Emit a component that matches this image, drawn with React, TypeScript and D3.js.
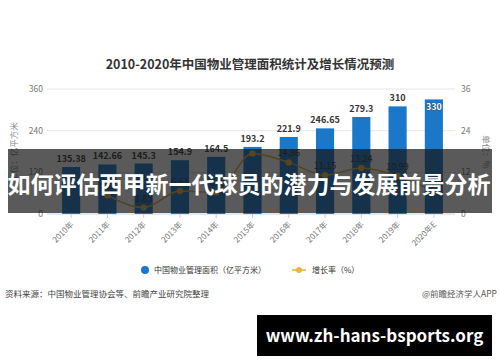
import React from 'react';
import * as d3 from 'd3';

const years = ['2010年', '2011年', '2012年', '2013年', '2014年', '2015年', '2016年', '2017年', '2018年', '2019年', '2020年E'];
const areaValues = [135.38, 142.66, 145.3, 154.9, 164.5, 193.2, 221.9, 246.65, 279.3, 310, 330];
// 2010 has no growth value in the chart
const growthYears = years.slice(1);
const growthValues = [5.38, 1.85, 6.61, 6.2, 17.45, 14.86, 11.15, 13.24, 10.99, 6.45];
const hiddenGrowthLabels = ['2015年'];
const leftTicks = [0, 120, 240, 360];
const rightTicks = [0, 12, 24, 36];

const W = 500;
const H = 362;
const margin = { top: 89, bottom: 214, left: 53, right: 452 };
const font = '"Noto Sans CJK SC", "Noto Sans", sans-serif';

export default function App() {
  const x = d3.scaleBand<string>().domain(years).range([margin.left, margin.right]).paddingInner(0.5).paddingOuter(0.25);
  const yL = d3.scaleLinear().domain([0, 360]).range([margin.bottom, margin.top]);
  const yR = d3.scaleLinear().domain([0, 36]).range([margin.bottom, margin.top]);
  const cx = (d: string) => (x(d) ?? 0) + x.bandwidth() / 2;

  const line = d3
    .line<number>()
    .x((_, i) => cx(growthYears[i]))
    .y(d => yR(d))
    .curve(d3.curveMonotoneX);

  return (
    <svg width={W} height={H} style={{ position: 'absolute', left: 0, top: 0, background: '#fff' }}>
      <rect width={W} height={H} fill="#fff" />
      <text x={250} y={69} textAnchor="middle" fontFamily={font} fontSize={12.5} fontWeight="bold" fill="#333">
        2010-2020年中国物业管理面积统计及增长情况预测
      </text>

      {leftTicks.map(t => (
        <g key={t}>
          <line x1={47} x2={455} y1={yL(t)} y2={yL(t)} stroke={t === 0 ? '#bcd6ee' : '#e6e6e6'} strokeWidth={1} />
          <text x={43} y={yL(t) + 3} textAnchor="end" fontFamily={font} fontSize={8.5} fill="#777">{t}</text>
        </g>
      ))}
      {rightTicks.map(t => (
        <text key={t} x={461} y={yR(t) + 3} fontFamily={font} fontSize={8.5} fill="#777">{t}</text>
      ))}
      <text transform="translate(17,152) rotate(-90)" textAnchor="middle" fontFamily={font} fontSize={8.5} fill="#888">
        单位：亿平方米
      </text>
      <text transform="translate(483,152) rotate(90)" textAnchor="middle" fontFamily={font} fontSize={8.5} fill="#888">
        单位：%
      </text>

      {years.map(y => (
        <line key={y} x1={cx(y)} x2={cx(y)} y1={margin.bottom} y2={margin.bottom + 4} stroke="#ccc" />
      ))}

      {years.map((y, i) => (
        <rect key={y} x={x(y)} y={yL(areaValues[i])} width={x.bandwidth()} height={margin.bottom - yL(areaValues[i])} fill="#1b78c8" />
      ))}
      {years.map((y, i) =>
        i === years.length - 1 ? (
          <text key={y} x={cx(y)} y={yL(areaValues[i]) + 11} textAnchor="middle" fontFamily={font} fontSize={9} fontWeight="bold"
            fill="#fff" stroke="#333" strokeWidth={0.6} paintOrder="stroke">{areaValues[i]}</text>
        ) : (
          <text key={y} x={cx(y)} y={yL(areaValues[i]) - 5} textAnchor="middle" fontFamily={font} fontSize={9} fontWeight="bold" fill="#333">
            {areaValues[i]}
          </text>
        )
      )}

      <path d={line(growthValues) ?? ''} fill="none" stroke="#e3ad3c" strokeWidth={1.5} />
      {growthValues.map((v, i) => (
        <g key={i}>
          <circle cx={cx(growthYears[i])} cy={yR(v)} r={3.2} fill="#f0b23e" />
          {!hiddenGrowthLabels.includes(growthYears[i]) && (
            <text x={cx(growthYears[i])} y={yR(v) - 6} textAnchor="middle" fontFamily={font} fontSize={9} fill="#333">{v}</text>
          )}
        </g>
      ))}

      {years.map(y => (
        <text key={y} transform={`translate(${cx(y) + 3},${margin.bottom + 11}) rotate(-45)`} textAnchor="end"
          fontFamily={font} fontSize={8} fill="#777">{y}</text>
      ))}

      <circle cx={145} cy={270} r={4} fill="#1b78c8" />
      <text x={154} y={273} fontFamily={font} fontSize={8} fill="#333">中国物业管理面积（亿平方米）</text>
      <line x1={292} x2={306} y1={270} y2={270} stroke="#e3ad3c" strokeWidth={1.5} />
      <circle cx={299} cy={270} r={3} fill="#f0b23e" />
      <text x={312} y={273} fontFamily={font} fontSize={8} fill="#333">增长率（%）</text>

      <text x={5} y={297} fontFamily={font} fontSize={8.5} fill="#444">资料来源：中国物业管理协会等、前瞻产业研究院整理</text>
      <text x={497} y={297} textAnchor="end" fontFamily={font} fontSize={8.5} fill="#555">@前瞻经济学人APP</text>

      <rect x={8} y={149} width={484} height={64} fill="rgb(20,20,20)" fillOpacity={0.7} />
      <text x={249} y={193} textAnchor="middle" fontFamily={font} fontSize={23} fontWeight="bold" fill="#fff">
        如何评估西甲新一代球员的潜力与发展前景分析
      </text>

      <rect x={257} y={315} width={235} height={41} fill="#000" />
      <text x={374.5} y={341.5} textAnchor="middle" fontFamily={font} fontSize={17} fontWeight="bold" fill="#fff">
        www.zh-hans-bsports.org
      </text>
    </svg>
  );
}
